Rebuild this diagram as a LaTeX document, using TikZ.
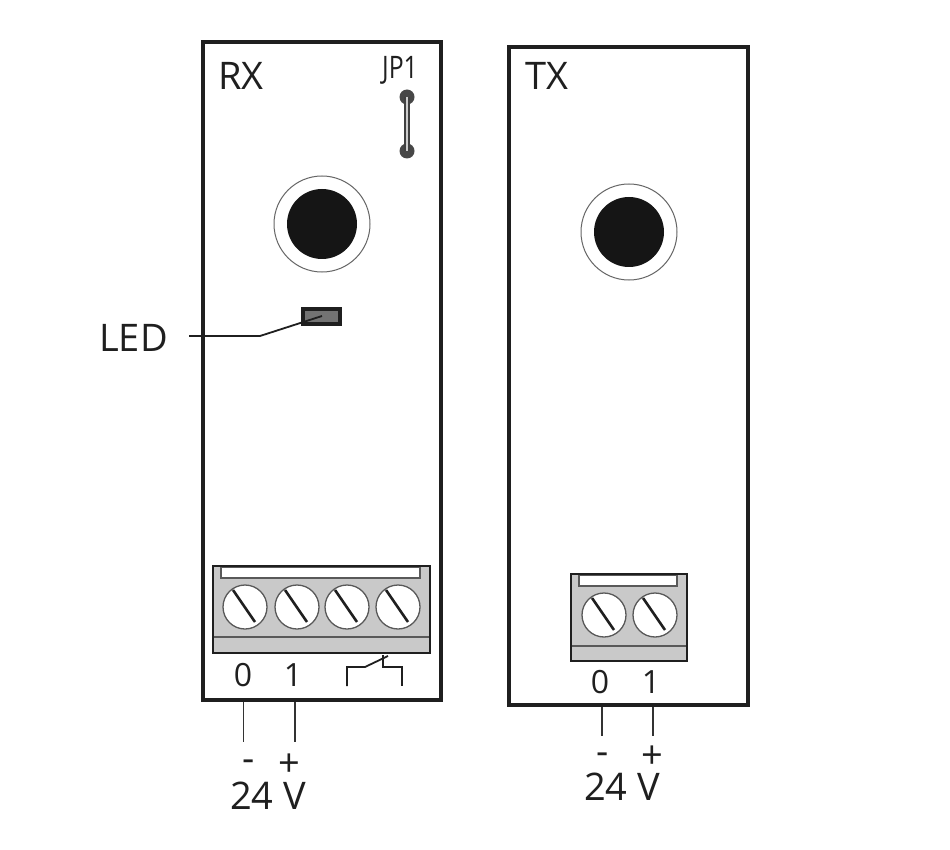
\documentclass[tikz,border=0pt]{standalone}
\usepackage{fontspec}
\setmainfont{Open Sans}
\definecolor{termgray}{gray}{0.79}
\definecolor{ink}{gray}{0.12}
\newcommand{\lab}[1]{\fontsize{#1}{#1}\selectfont}
\tikzset{
  x=1pt,y=-1pt,
  module/.style={draw=ink,line width=3.8pt,fill=white},
  term/.style={draw=ink,line width=2pt,fill=termgray},
  strip/.style={draw=black!65,line width=1.5pt,fill=white},
  divider/.style={draw=black!65,line width=1.5pt},
  screw/.style={circle,draw=black!65,line width=1.3pt,fill=white,minimum size=44pt,inner sep=0pt},
  slot/.style={draw=ink,line width=2.6pt},
  lens/.style={circle,fill=ink!70!black,minimum size=70pt,inner sep=0pt},
  ring/.style={circle,draw=black!60,line width=1pt,fill=white,minimum size=96pt,inner sep=0pt},
  wire/.style={draw=black!80,line width=1.4pt},
  txt/.style={inner sep=0pt,text=ink},
}
\begin{document}
\begin{tikzpicture}
\useasboundingbox (0,0) rectangle (950,850);
\fill[white] (0,0) rectangle (950,850);
% modules
\draw[module] (203,42) rectangle (441,700);
\draw[module] (509,47) rectangle (748,705);
% labels
\node[txt] (rxl) at (241,76) {\lab{38}RX};
\node[txt] (txl) at (547,76) {\lab{38}TX};
\node[txt] (jpl) at (400,70) {\lab{31}\addfontfeature{FakeStretch=0.8}JP1};
\node[txt,anchor=east] (ledl) at (168,338) {\lab{38}LED};
% jumper
\node[circle,fill=black!72,minimum size=15pt,inner sep=0pt] (ja) at (407,97) {};
\node[circle,fill=black!72,minimum size=15pt,inner sep=0pt] (jb) at (407,151) {};
\draw[black!75,line width=6pt] (ja.center) -- (jb.center);
\draw[black!20,line width=2pt] (ja.center) -- (jb.center);
% sensors
\node[ring] (rxring) at (322,224) {};
\node[lens] (rxlens) at (322,224) {};
\node[ring] (txring) at (629,232) {};
\node[lens] (txlens) at (629,232) {};
% LED
\node[draw=ink,line width=3.2pt,fill=black!55,minimum width=37pt,minimum height=15pt,inner sep=0pt] (led) at (321.5,316.5) {};
\coordinate (ledstart) at (189,336);
\coordinate (ledtip) at (322,316);
\coordinate (ledbend) at (260,336);
\draw[draw=ink,line width=1.8pt] (ledstart) -- (ledbend) -- (ledtip);
% RX terminal
\draw[term] (213,566) rectangle (430,653);
\draw[strip] (221,567) rectangle (420,578);
\draw[divider] (214,637) -- (429,637);
\foreach \n/\x in {a/245,b/297,c/347,d/398}{
  \node[screw] (rx\n) at (\x,607) {};
  \draw[slot] (\x-12,590) -- (\x+10,622);
}
\draw[term,fill=none] (213,566) rectangle (430,653);
% TX terminal
\draw[term] (571,574) rectangle (687,661);
\draw[strip] (579,575) rectangle (677,586);
\draw[divider] (572,646) -- (686,646);
\foreach \n/\x in {a/604,b/655}{
  \node[screw] (tx\n) at (\x,615) {};
  \draw[slot] (\x-12,598) -- (\x+10,630);
}
\draw[term,fill=none] (571,574) rectangle (687,661);
% numbers
\node[txt] (r0) at (243,675) {\lab{32}0};
\node[txt] (r1) at (293,675) {\lab{32}1};
\node[txt] (t0) at (600,682) {\lab{32}0};
\node[txt] (t1) at (651,682) {\lab{32}1};
% relay contact
\draw[draw=ink,line width=1.8pt] (347,686) -- (347,667) -- (365,667) -- (388,656);
\draw[draw=ink,line width=1.8pt] (383,655) -- (383,667) -- (402,667) -- (402,686);
% wires
\coordinate (wr0a) at (243.5,702); \coordinate (wr0b) at (243.5,742);
\coordinate (wr1a) at (295,702);   \coordinate (wr1b) at (295,742);
\coordinate (wt0a) at (602,707);   \coordinate (wt0b) at (602,736);
\coordinate (wt1a) at (653,707);   \coordinate (wt1b) at (653,736);
\draw[wire] (wr0a) -- (wr0b);
\draw[wire] (wr1a) -- (wr1b);
\draw[wire] (wt0a) -- (wt0b);
\draw[wire] (wt1a) -- (wt1b);
% polarity
\node[txt] (rm) at (249,766) {\lab{38}-};
\node[txt] (rp) at (289,765) {\lab{38}+};
\node[txt] (tm) at (603,759) {\lab{38}-};
\node[txt] (tp) at (652,757) {\lab{38}+};
\node[txt] (r24) at (268,796) {\lab{38}24 V};
\node[txt] (t24) at (622,787) {\lab{38}24 V};
\end{tikzpicture}
\end{document}
